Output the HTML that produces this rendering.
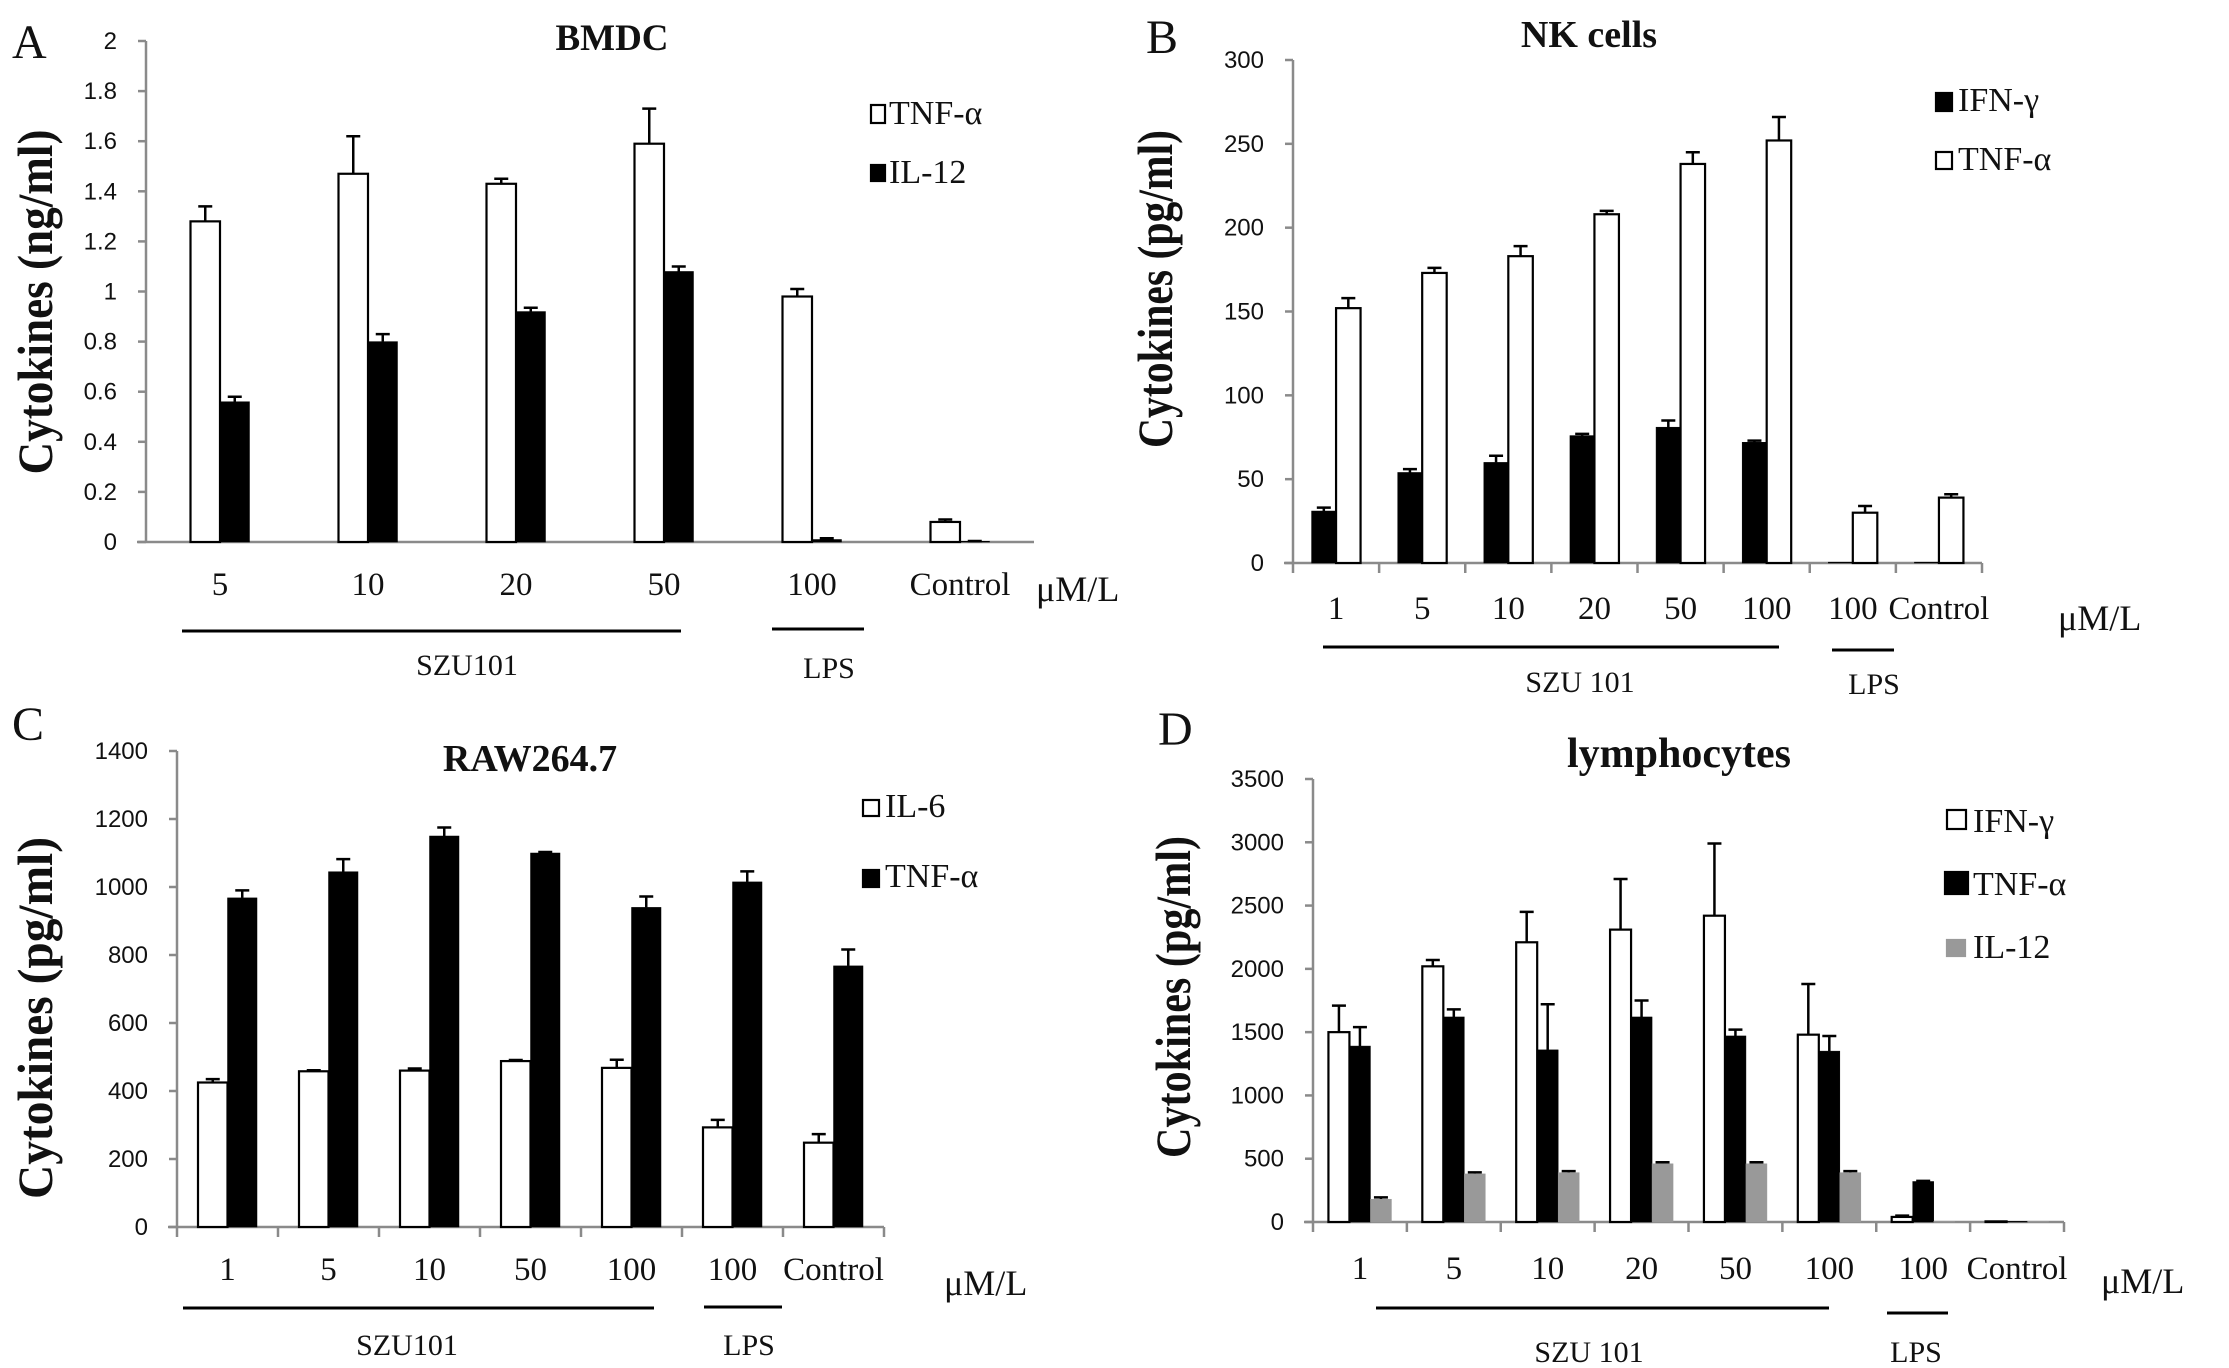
<!DOCTYPE html>
<html><head><meta charset="utf-8"><style>
html,body{margin:0;padding:0;background:#fff;}
svg{display:block;}
.tk{font-family:"Liberation Sans",sans-serif;font-size:24px;fill:#111;}
.sv{font-family:"Liberation Serif",serif;fill:#111;}
</style></head><body>
<svg id="fig" width="2229" height="1368" viewBox="0 0 2229 1368" xmlns="http://www.w3.org/2000/svg"></svg>
<script>
// ---- Panel A data (BMDC, ng/ml)
const aCats = ["5","10","20","50","100","Control"];
const aTnf = [1.28,1.47,1.43,1.59,0.98,0.08];
const aTnfErr = [1.34,1.62,1.45,1.73,1.01,0.09];
const aIl12 = [0.56,0.80,0.92,1.08,0.01,0.003];
const aIl12Err = [0.58,0.83,0.935,1.10,0.015,0.004];
const aTicks = ["0","0.2","0.4","0.6","0.8","1","1.2","1.4","1.6","1.8","2"];
// ---- Panel B data (NK cells, pg/ml)
const bCats = ["1","5","10","20","50","100","100","Control"];
const bIfn = [31,54,60,76,81,72,0.5,0.5];
const bIfnErr = [33,56,64,77,85,73,0.5,0.5];
const bTnf = [152,173,183,208,238,252,30,39];
const bTnfErr = [158,176,189,210,245,266,34,41];
const bTicks = ["0","50","100","150","200","250","300"];
// ---- Panel C data (RAW264.7, pg/ml)
const cCats = ["1","5","10","50","100","100","Control"];
const cIl6 = [425,458,460,488,468,293,248];
const cIl6Err = [435,461,466,491,492,315,273];
const cTnf = [968,1045,1150,1100,940,1015,768];
const cTnfErr = [990,1082,1175,1103,972,1046,816];
const cTicks = ["0","200","400","600","800","1000","1200","1400"];
// ---- Panel D data (lymphocytes, pg/ml)
const dCats = ["1","5","10","20","50","100","100","Control"];
const dIfn = [1500,2020,2210,2310,2420,1480,40,5];
const dIfnErr = [1710,2070,2450,2710,2990,1880,50,5];
const dTnf = [1390,1620,1360,1620,1470,1350,320,5];
const dTnfErr = [1540,1680,1720,1750,1520,1470,325,5];
const dIl12 = [180,380,390,460,460,390,5,5];
const dIl12Err = [195,392,402,472,472,402,5,5];
const dTicks = ["0","500","1000","1500","2000","2500","3000","3500"];

const NS = "http://www.w3.org/2000/svg";
const svg = document.getElementById("fig");
function mk(tag, attrs, parent, text){
  const e = document.createElementNS(NS, tag);
  for (const k in attrs) e.setAttribute(k, attrs[k]);
  if (text !== undefined) e.textContent = text;
  (parent||svg).appendChild(e);
  return e;
}

function panel(cfg){
  const g = mk("g", {});
  
  
  const yMax = cfg.yMax;
  const yS = v => cfg.y0 - (v / yMax) * (cfg.y0 - cfg.yTop);
  const n = cfg.cats.length;
  const band = (cfg.x1 - cfg.x0) / n;
  const xC = i => cfg.x0 + band * (i + 0.5);
  const ya = mk("line", {x1:cfg.x0, y1:cfg.yTop, x2:cfg.x0, y2:cfg.y0, stroke:"#8a8a8a", "stroke-width":2.5}, g);
  
  
  cfg.ticks.forEach(t => {
    const v = parseFloat(t), y = yS(v);
    const tl = mk("line", {x1:cfg.x0-8, y1:y, x2:cfg.x0, y2:y, stroke:"#8a8a8a", "stroke-width":2.5}, g);
    
    
    const tx = mk("text", {x:cfg.x0-29, y:y+8, "text-anchor":"end", class:"tk"}, g, t);
    
    
  });
  const xa = mk("line", {x1:cfg.x0-9, y1:cfg.y0, x2:cfg.x1, y2:cfg.y0, stroke:"#8a8a8a", "stroke-width":2.5}, g);
  
  
  if (cfg.xticks){
    for (let i=0;i<=n;i++){
      const x = cfg.x0 + band*i;
      const t = mk("line", {x1:x, y1:cfg.y0, x2:x, y2:cfg.y0+10, stroke:"#8a8a8a", "stroke-width":2.5}, g);
      
      
    }
  }
  const ns = cfg.series.length, bw = cfg.bw;
  cfg.cats.forEach((c, i) => {
    const xc = xC(i);
    cfg.series.forEach((s, j) => {
      const bx = xc - ns*bw/2 + j*bw;
      const v = s.vals[i], ev = s.errs[i];
      const yv = yS(v);
      if (ev > v) {
        const yt = yS(ev);
        const el = mk("path", {d:`M${bx+bw/2},${yv} V${yt} M${bx+bw/2-7},${yt} H${bx+bw/2+7}`, stroke:"#000", "stroke-width":2.5, fill:"none"}, g);
        
        
      }
      const r = mk("rect", {x:bx, y:yv, width:bw, height:Math.max(cfg.y0-yv,0.5), fill:s.fill,
        stroke: s.fill==="#fff" ? "#000" : s.fill, "stroke-width": s.fill==="#fff" ? 2.2 : 0.5}, g);
      
      
    });
    const lab = mk("text", {x:xc, y:cfg.labY+2, "text-anchor":"middle", class:"sv", "font-size":33}, g, c);
    
    
  });
  cfg.legend.forEach(L => {
    const b = mk("rect", {x:L.bx, y:L.by, width:L.bw, height:L.bh, fill:L.fill, stroke:L.fill==="#fff"?"#000":L.fill, "stroke-width":2.2}, g);
    
    
    const t = mk("text", {x:L.tx, y:L.ty, class:"sv", "font-size":34}, g, L.text);
    
    
  });
  const tt = mk("text", {x:cfg.title[0], y:cfg.title[1], "text-anchor":"middle", class:"sv", "font-size":cfg.title[3], "font-weight":"bold"}, g, cfg.title[2]);
  
  
  const pl = mk("text", {x:cfg.letter[0], y:cfg.letter[1]+3, class:"sv", "font-size":48}, g, cfg.letter[2]);
  
  
  const yl = mk("text", {x:0, y:0, transform:`translate(${cfg.ylab[0]+2},${cfg.ylab[1]}) rotate(-90)`, "text-anchor":"middle", class:"sv", "font-size":50, "font-weight":"bold", textLength:cfg.ylab[3], lengthAdjust:"spacingAndGlyphs"}, g, cfg.ylab[2]);
  
  
  const u = mk("text", {x:cfg.unit[0], y:cfg.unit[1]+3, class:"sv", "font-size":36}, g, "μM/L");
  
  
  cfg.groups.forEach(G => {
    const l = mk("line", {x1:G.x1, y1:G.y, x2:G.x2, y2:G.y, stroke:"#000", "stroke-width":3}, g);
    
    
    const t = mk("text", {x:G.tx, y:G.ty, "text-anchor":"middle", class:"sv", "font-size":30}, g, G.text);
    
    
  });
}

panel({name:"panel-a-bmdc", x0:146, x1:1034, yTop:41, y0:542, yMax:2, ticks:aTicks, xticks:false, cats:aCats, bw:29.5, labY:593,
  series:[{key:"tnf",fill:"#fff",vals:aTnf,errs:aTnfErr},{key:"il12",fill:"#000",vals:aIl12,errs:aIl12Err}],
  legend:[{bx:871,by:105,bw:14,bh:18,fill:"#fff",tx:889,ty:124,text:"TNF-α"},{bx:871,by:165,bw:14,bh:16,fill:"#000",tx:889,ty:183,text:"IL-12"}],
  title:[612,50,"BMDC",37], letter:[12,55,"A"], ylab:[50,302,"Cytokines (ng/ml)",345], unit:[1036,598],
  groups:[{x1:182,x2:681,y:631,tx:467,ty:675,text:"SZU101"},{x1:772,x2:864,y:629,tx:829,ty:678,text:"LPS"}]});

panel({name:"panel-b-nk-cells", x0:1293, x1:1982, yTop:60, y0:563, yMax:300, ticks:bTicks, xticks:true, cats:bCats, bw:24.5, labY:617,
  series:[{key:"ifn",fill:"#000",vals:bIfn,errs:bIfnErr},{key:"tnf",fill:"#fff",vals:bTnf,errs:bTnfErr}],
  legend:[{bx:1936,by:93,bw:16,bh:18,fill:"#000",tx:1958,ty:111,text:"IFN-γ"},{bx:1936,by:152,bw:16,bh:17,fill:"#fff",tx:1958,ty:170,text:"TNF-α"}],
  title:[1589,47,"NK cells",38], letter:[1146,50,"B"], ylab:[1170,289,"Cytokines (pg/ml)",318], unit:[2058,627],
  groups:[{x1:1323,x2:1779,y:647,tx:1580,ty:692,text:"SZU 101"},{x1:1832,x2:1894,y:650,tx:1874,ty:694,text:"LPS"}]});

panel({name:"panel-c-raw264", x0:177, x1:884, yTop:751, y0:1227, yMax:1400, ticks:cTicks, xticks:true, cats:cCats, bw:29.5, labY:1278,
  series:[{key:"il6",fill:"#fff",vals:cIl6,errs:cIl6Err},{key:"tnf",fill:"#000",vals:cTnf,errs:cTnfErr}],
  legend:[{bx:863,by:800,bw:16,bh:16,fill:"#fff",tx:885,ty:817,text:"IL-6"},{bx:863,by:870,bw:16,bh:17,fill:"#000",tx:885,ty:887,text:"TNF-α"}],
  title:[530,771,"RAW264.7",38], letter:[12,737,"C"], ylab:[50,1018,"Cytokines (pg/ml)",362], unit:[944,1292],
  groups:[{x1:183,x2:654,y:1308,tx:407,ty:1355,text:"SZU101"},{x1:704,x2:782,y:1307,tx:749,ty:1355,text:"LPS"}]});

panel({name:"panel-d-lymphocytes", x0:1313, x1:2064, yTop:779, y0:1222, yMax:3500, ticks:dTicks, xticks:true, cats:dCats, bw:21, labY:1277,
  series:[{key:"ifn",fill:"#fff",vals:dIfn,errs:dIfnErr},{key:"tnf",fill:"#000",vals:dTnf,errs:dTnfErr},{key:"il12",fill:"#999",vals:dIl12,errs:dIl12Err}],
  legend:[{bx:1947,by:810,bw:19,bh:19,fill:"#fff",tx:1973,ty:832,text:"IFN-γ"},{bx:1945,by:872,bw:23,bh:22,fill:"#000",tx:1973,ty:895,text:"TNF-α"},{bx:1947,by:940,bw:18,bh:16,fill:"#999",tx:1973,ty:958,text:"IL-12"}],
  title:[1679,767,"lymphocytes",42], letter:[1158,742,"D"], ylab:[1188,997,"Cytokines (pg/ml)",322], unit:[2101,1290],
  groups:[{x1:1376,x2:1829,y:1308,tx:1589,ty:1362,text:"SZU 101"},{x1:1887,x2:1948,y:1313,tx:1916,ty:1362,text:"LPS"}]});
</script>
</body></html>
